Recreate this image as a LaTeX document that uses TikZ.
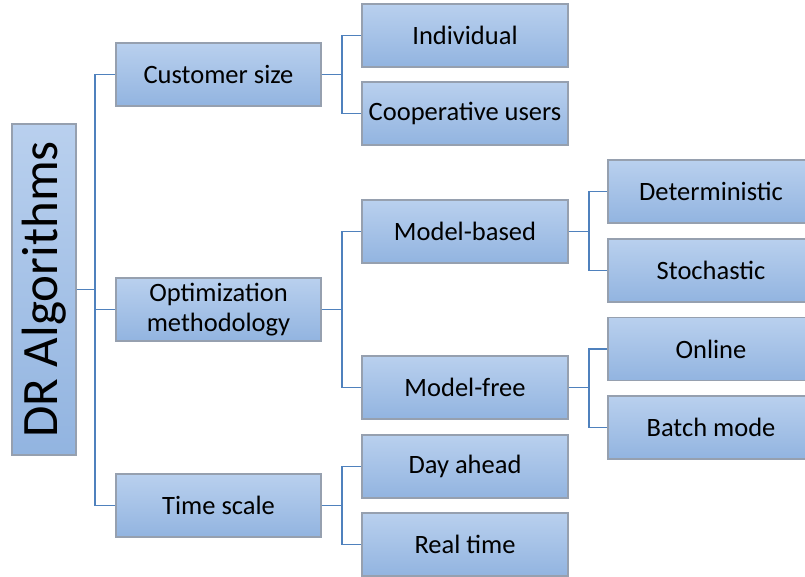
\documentclass[tikz,border=0pt]{standalone}
\usepackage{fontspec}
\setmainfont{Carlito}
\usepackage{tikz}
\definecolor{boxtop}{RGB}{185, 208, 238}
\definecolor{boxbot}{RGB}{146, 180, 224}
\definecolor{boxline}{RGB}{150, 160, 175}
\definecolor{linkblue}{RGB}{79, 129, 189}

\begin{document}
\begin{tikzpicture}[x = 1pt, y = -1pt,
	box/.style = {draw = boxline, line width = 1.1pt, top color = boxtop, bottom color = boxbot, minimum width = 205pt, minimum height = 63pt, inner sep = 0pt, align = center, font = \fontsize{26.5}{30}\selectfont},
	link/.style = {draw = linkblue, line width = 1.3pt}]
			\useasboundingbox (0,0) rectangle (805,576);
			\node (root) at (44,289.5) [box, rotate = 90, minimum width = 331pt, minimum height = 64pt, font = \fontsize{51}{56}\selectfont] {DR Algorithms};
			\node (cust) at (218.5,74.5) [box] {Customer size};
			\node (opt) at (218.5,309.5) [box] {Optimization\\methodology};
			\node (time) at (218.5,505.5) [box] {Time scale};
			\node (ind) at (465,35.5) [box, minimum width = 206pt] {Individual};
			\node (coop) at (465,113.5) [box, minimum width = 206pt] {Cooperative users};
			\node (mb) at (465,231.5) [box, minimum width = 206pt] {Model-based};
			\node (mf) at (465,387.5) [box, minimum width = 206pt] {Model-free};
			\node (day) at (465,466.5) [box, minimum width = 206pt] {Day ahead};
			\node (real) at (465,544.5) [box, minimum width = 206pt] {Real time};
			\node (det) at (711,191.5) [box, minimum width = 206pt] {Deterministic};
			\node (sto) at (711,270.5) [box, minimum width = 206pt] {Stochastic};
			\node (onl) at (711,349) [box, minimum width = 206pt] {Online};
			\node (bat) at (711,427.5) [box, minimum width = 206pt] {Batch mode};
			\coordinate (rootj) at (95,289.5);
			\coordinate (custj) at (342,74.5);
			\coordinate (optj) at (342,309.5);
			\coordinate (timej) at (342,505.5);
			\coordinate (mbj) at (589,231.5);
			\coordinate (mfj) at (589,387.5);
			\draw[link] (root) -- (rootj);
			\draw[link] (rootj) |- (cust);
			\draw[link] (rootj) |- (opt);
			\draw[link] (rootj) |- (time);
			\draw[link] (cust) -- (custj);
			\draw[link] (custj) |- (ind);
			\draw[link] (custj) |- (coop);
			\draw[link] (opt) -- (optj);
			\draw[link] (optj) |- (mb);
			\draw[link] (optj) |- (mf);
			\draw[link] (time) -- (timej);
			\draw[link] (timej) |- (day);
			\draw[link] (timej) |- (real);
			\draw[link] (mb) -- (mbj);
			\draw[link] (mbj) |- (det);
			\draw[link] (mbj) |- (sto);
			\draw[link] (mf) -- (mfj);
			\draw[link] (mfj) |- (onl);
			\draw[link] (mfj) |- (bat);
			\end{tikzpicture}
\end{document}
